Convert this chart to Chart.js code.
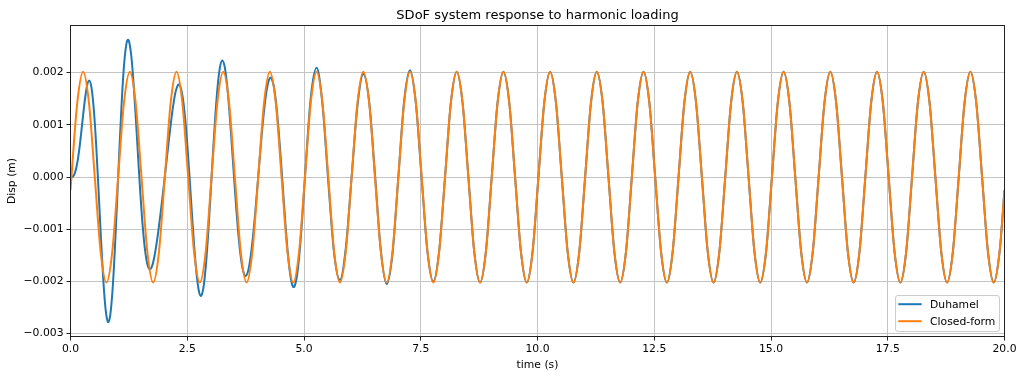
<!DOCTYPE html>
<html><head><meta charset="utf-8">
<script src="https://cdn.jsdelivr.net/npm/chart.js@4.4.1/dist/chart.umd.min.js"></script>
<style>html,body{margin:0;padding:0;background:#fff;}canvas{display:block;}</style>
</head><body>
<canvas id="c" width="1024" height="378"></canvas>
<script>
const chartTitle = 'SDoF system response to harmonic loading';
const xAxisLabel = 'time (s)';
const yAxisLabel = 'Disp (m)';
const seriesNames = ['Duhamel', 'Closed-form'];
const seriesColors = ['#1f77b4', '#ff7f0e'];
const xTicks = [0, 2.5, 5, 7.5, 10, 12.5, 15, 17.5, 20];
const yTicks = [-0.003, -0.002, -0.001, 0, 0.001, 0.002];
const xRange = [0, 20];
const yRange = [-0.003054, 0.002904];

// Closed-form (steady state)
const closedTime = [0,
 0.02,0.145,0.27,0.395,0.52,0.645,0.77,0.895,
 1.02,1.145,1.27,1.395,1.52,1.645,1.77,1.895,
 2.02,2.145,2.27,2.395,2.52,2.645,2.77,2.895,
 3.02,3.145,3.27,3.395,3.52,3.645,3.77,3.895,
 4.02,4.145,4.27,4.395,4.52,4.645,4.77,4.895,
 5.02,5.145,5.27,5.395,5.52,5.645,5.77,5.895,
 6.02,6.145,6.27,6.395,6.52,6.645,6.77,6.895,
 7.02,7.145,7.27,7.395,7.52,7.645,7.77,7.895,
 8.02,8.145,8.27,8.395,8.52,8.645,8.77,8.895,
 9.02,9.145,9.27,9.395,9.52,9.645,9.77,9.895,
 10.02,10.145,10.27,10.395,10.52,10.645,10.77,10.895,
 11.02,11.145,11.27,11.395,11.52,11.645,11.77,11.895,
 12.02,12.145,12.27,12.395,12.52,12.645,12.77,12.895,
 13.02,13.145,13.27,13.395,13.52,13.645,13.77,13.895,
 14.02,14.145,14.27,14.395,14.52,14.645,14.77,14.895,
 15.02,15.145,15.27,15.395,15.52,15.645,15.77,15.895,
 16.02,16.145,16.27,16.395,16.52,16.645,16.77,16.895,
 17.02,17.145,17.27,17.395,17.52,17.645,17.77,17.895,
 18.02,18.145,18.27,18.395,18.52,18.645,18.77,18.895,
 19.02,19.145,19.27,19.395,19.52,19.645,19.77,19.895,
 20];
const closedDisp = [-0.00025,
 0,0.001428,0.00202,0.001428,0,-0.001428,-0.00202,-0.001428,
 0,0.001428,0.00202,0.001428,0,-0.001428,-0.00202,-0.001428,
 0,0.001428,0.00202,0.001428,0,-0.001428,-0.00202,-0.001428,
 0,0.001428,0.00202,0.001428,0,-0.001428,-0.00202,-0.001428,
 0,0.001428,0.00202,0.001428,0,-0.001428,-0.00202,-0.001428,
 0,0.001428,0.00202,0.001428,0,-0.001428,-0.00202,-0.001428,
 0,0.001428,0.00202,0.001428,0,-0.001428,-0.00202,-0.001428,
 0,0.001428,0.00202,0.001428,0,-0.001428,-0.00202,-0.001428,
 0,0.001428,0.00202,0.001428,0,-0.001428,-0.00202,-0.001428,
 0,0.001428,0.00202,0.001428,0,-0.001428,-0.00202,-0.001428,
 0,0.001428,0.00202,0.001428,0,-0.001428,-0.00202,-0.001428,
 0,0.001428,0.00202,0.001428,0,-0.001428,-0.00202,-0.001428,
 0,0.001428,0.00202,0.001428,0,-0.001428,-0.00202,-0.001428,
 0,0.001428,0.00202,0.001428,0,-0.001428,-0.00202,-0.001428,
 0,0.001428,0.00202,0.001428,0,-0.001428,-0.00202,-0.001428,
 0,0.001428,0.00202,0.001428,0,-0.001428,-0.00202,-0.001428,
 0,0.001428,0.00202,0.001428,0,-0.001428,-0.00202,-0.001428,
 0,0.001428,0.00202,0.001428,0,-0.001428,-0.00202,-0.001428,
 0,0.001428,0.00202,0.001428,0,-0.001428,-0.00202,-0.001428,
 0,0.001428,0.00202,0.001428,0,-0.001428,-0.00202,-0.001428,
 -0.00025];

// Duhamel response during the transient (0 - 8 s); afterwards it lies on the closed-form curve
const duhamelTime = [
 0,0.05,0.10,0.15,0.20,0.25,0.30,0.35,0.40,0.45,0.50,0.55,0.60,0.65,0.70,0.75,0.80,0.809,0.85,0.90,0.95,
 1.00,1.05,1.10,1.15,1.20,1.232,1.25,1.30,1.35,1.40,1.45,1.50,1.55,1.60,1.65,1.70,1.75,1.80,1.85,1.90,1.95,
 2.00,2.05,2.10,2.15,2.20,2.25,2.30,2.318,2.35,2.40,2.45,2.50,2.55,2.60,2.65,2.70,2.75,2.791,2.80,2.85,2.90,2.95,
 3.00,3.05,3.10,3.15,3.20,3.25,3.30,3.35,3.40,3.45,3.50,3.55,3.60,3.65,3.70,3.75,3.80,3.85,3.90,3.95,
 4.00,4.05,4.10,4.15,4.20,4.25,4.285,4.30,4.35,4.40,4.45,4.50,4.55,4.60,4.65,4.70,4.75,4.78,4.80,4.85,4.90,4.95,
 5.00,5.02,5.145,5.27,5.395,5.52,5.645,5.77,5.895,
 6.02,6.145,6.27,6.395,6.52,6.645,6.77,6.895,
 7.02,7.145,7.27,7.395,7.52,7.645,7.77,7.895];
const duhamelDisp = [
 0,0.000010,0.000095,0.000295,0.000617,0.001018,0.001423,0.001731,0.001850,0.001709,0.001285,0.000609,-0.000240,-0.001136,-0.001940,-0.002520,-0.002775,-0.002781,-0.002654,-0.002167,-0.001383,
 -0.000416,0.000593,0.001501,0.002186,0.002566,0.002631,0.002610,0.002334,0.001803,0.001106,0.000348,-0.000374,-0.000982,-0.001425,-0.001685,-0.001767,-0.001696,-0.001506,-0.001232,-0.000903,-0.000537,
 -0.000148,0.000254,0.000656,0.001040,0.001377,0.001632,0.001766,0.001776,0.001745,0.001546,0.001169,0.000634,-0.000010,-0.000695,-0.001339,-0.001861,-0.002188,-0.002277,-0.002273,-0.002097,-0.001677,-0.001060,
 -0.000321,0.000451,0.001163,0.001735,0.002102,0.002232,0.002120,0.001789,0.001286,0.000674,0.000022,-0.000604,-0.001145,-0.001557,-0.001810,-0.001894,-0.001810,-0.001571,-0.001203,-0.000736,
 -0.000210,0.000337,0.000859,0.001314,0.001660,0.001864,0.001908,0.001900,0.001757,0.001440,0.000972,0.000394,-0.000241,-0.000868,-0.001420,-0.001837,-0.002070,-0.002108,-0.002090,-0.001891,-0.001493,-0.000936,
 -0.000281,-0.000007,0.001523,0.002094,0.001399,-0.000087,-0.001465,-0.001970,-0.001360,
 0.000005,0.001371,0.001974,0.001446,0.000053,-0.001406,-0.002050,-0.001471,
 -0.000004,0.001463,0.002048,0.001418,-0.000032,-0.001443,-0.002002,-0.001403];
const duhamelMergeFrom = 8; // from here the Duhamel curve coincides with the closed-form curve

const closedPts = closedTime.map((t, i) => ({x: t, y: closedDisp[i]}));
const duhamelPts = duhamelTime.map((t, i) => ({x: t, y: duhamelDisp[i]}))
  .concat(closedPts.filter(p => p.x >= duhamelMergeFrom));

const FONT = 'DejaVu Sans';
Chart.defaults.font.family = FONT;
Chart.defaults.font.size = 10.8;
Chart.defaults.color = '#000';

const fmtY = v => { const s = Math.abs(v) < 1e-12 ? '0.000' : v.toFixed(3); return s.replace('-', '\u2212'); };
const fmtX = v => v.toFixed(1);

const LINE_W = 2;

const decor = {
  id: 'decor',
  afterDraw(chart) {
    const {ctx, chartArea: a} = chart;
    ctx.save();
    // frame
    ctx.strokeStyle = '#222';
    ctx.lineWidth = 1;
    ctx.strokeRect(a.left, a.top, a.right - a.left, a.bottom - a.top);
    // title
    const cx = (a.left + a.right) / 2;
    ctx.fillStyle = '#000';
    ctx.textAlign = 'center';
    ctx.textBaseline = 'alphabetic';
    ctx.font = '13px "' + FONT + '"';
    ctx.fillText(chartTitle, cx, 19);
    ctx.font = '10.8px "' + FONT + '"';
    ctx.fillText(xAxisLabel, cx, 368);
    ctx.save();
    ctx.translate(15.2, (a.top + a.bottom) / 2);
    ctx.rotate(-Math.PI / 2);
    ctx.fillText(yAxisLabel, 0, 0);
    ctx.restore();
    // legend
    const bx = 895.5, by = 295.5, bw = 104, bh = 36;
    ctx.beginPath();
    if (ctx.roundRect) ctx.roundRect(bx, by, bw, bh, 2.5); else ctx.rect(bx, by, bw, bh);
    ctx.fillStyle = 'rgba(255,255,255,0.8)';
    ctx.fill();
    ctx.strokeStyle = '#cccccc';
    ctx.lineWidth = 1;
    ctx.stroke();
    const rows = [304.2, 321.2];
    seriesNames.forEach((name, i) => {
      ctx.beginPath();
      ctx.strokeStyle = seriesColors[i];
      ctx.lineWidth = LINE_W;
      ctx.moveTo(898.3, rows[i]);
      ctx.lineTo(921.7, rows[i]);
      ctx.stroke();
      ctx.fillStyle = '#000';
      ctx.textAlign = 'left';
      ctx.textBaseline = 'alphabetic';
      ctx.font = '10.8px "' + FONT + '"';
      ctx.fillText(name, 930, rows[i] + 4);
    });
    ctx.restore();
  }
};

new Chart(document.getElementById('c'), {
  type: 'line',
  data: {
    datasets: [
      {label: seriesNames[0], data: duhamelPts, borderColor: seriesColors[0], borderWidth: LINE_W,
       pointRadius: 0, fill: false, cubicInterpolationMode: 'monotone', order: 1},
      {label: seriesNames[1], data: closedPts, borderColor: seriesColors[1], borderWidth: LINE_W,
       pointRadius: 0, fill: false, cubicInterpolationMode: 'monotone', order: 0}
    ]
  },
  options: {
    responsive: false,
    animation: false,
    devicePixelRatio: 1,
    events: [],
    layout: {padding: {top: 25.5, right: 19.5, left: 0, bottom: 0}},
    plugins: {legend: {display: false}, tooltip: {enabled: false}, title: {display: false}},
    scales: {
      x: {
        type: 'linear', min: xRange[0], max: xRange[1],
        afterBuildTicks: s => { s.ticks = xTicks.map(v => ({value: v})); },
        afterFit: s => { s.height = 41.5; s.paddingLeft = 0; s.paddingRight = 0; },
        ticks: {callback: v => fmtX(v), autoSkip: false, maxRotation: 0, padding: 2, color: '#000', font: {size: 10.8}},
        grid: {color: '#c4c4c4', lineWidth: 1, tickLength: 4, tickColor: '#222', tickWidth: 1},
        border: {display: false}
      },
      y: {
        type: 'linear', min: yRange[0], max: yRange[1],
        afterBuildTicks: s => { s.ticks = yTicks.map(v => ({value: v})); },
        afterFit: s => { s.width = 70.5; s.paddingTop = 0; s.paddingBottom = 0; },
        ticks: {callback: v => fmtY(v), autoSkip: false, padding: 3, color: '#000', font: {size: 10.8}},
        grid: {color: '#c4c4c4', lineWidth: 1, tickLength: 4, tickColor: '#222', tickWidth: 1},
        border: {display: false}
      }
    }
  },
  plugins: [decor]
});
</script>
</body></html>
